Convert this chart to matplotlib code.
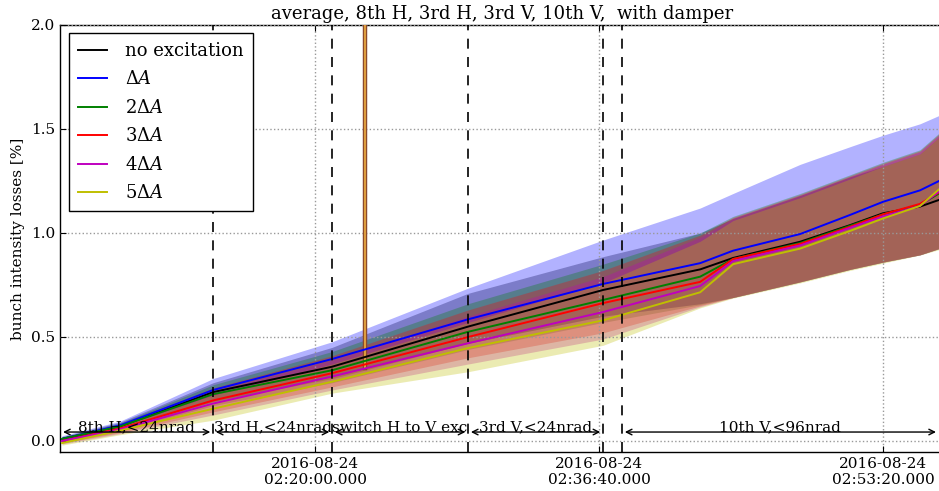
import matplotlib
matplotlib.use("Agg")
import matplotlib.pyplot as plt
import matplotlib.dates as mdates
from datetime import datetime

# ---------------- data ----------------
times = ["02:05:09", "02:08:33", "02:14:01", "02:21:00", "02:28:59", "02:36:54",
         "02:42:36", "02:44:32", "02:48:28", "02:51:24", "02:53:20", "02:55:30", "02:56:37"]

labels = ["no excitation", r"$\Delta A$", r"$2\Delta A$", r"$3\Delta A$", r"$4\Delta A$", r"$5\Delta A$"]
colors = ["k", "b", "g", "r", "m", "y"]

mean_none = [0.01, 0.07, 0.235, 0.357, 0.55, 0.726, 0.825, 0.88, 0.958, 1.038, 1.095, 1.127, 1.159]
mean_1 = [0.01, 0.075, 0.245, 0.394, 0.585, 0.755, 0.855, 0.915, 0.995, 1.087, 1.15, 1.205, 1.25]
mean_2 = [0.01, 0.07, 0.225, 0.34, 0.525, 0.678, 0.79, 0.875, 0.952, 1.035, 1.09, 1.135, 1.19]
mean_3 = [0.0, 0.06, 0.195, 0.326, 0.50, 0.663, 0.765, 0.875, 0.948, 1.03, 1.09, 1.14, 1.195]
mean_4 = [0.0, 0.055, 0.18, 0.31, 0.47, 0.62, 0.745, 0.865, 0.94, 1.025, 1.08, 1.13, 1.2]
mean_5 = [-0.01, 0.05, 0.155, 0.285, 0.447, 0.58, 0.715, 0.85, 0.925, 1.01, 1.07, 1.13, 1.21]

hi_none = [0.02, 0.09, 0.28, 0.45, 0.71, 0.886, 1.0, 1.07, 1.18, 1.27, 1.32, 1.38, 1.46]
hi_1 = [0.025, 0.095, 0.30, 0.477, 0.735, 0.966, 1.12, 1.19, 1.33, 1.415, 1.47, 1.525, 1.565]
hi_2 = [0.02, 0.085, 0.27, 0.43, 0.66, 0.85, 1.0, 1.08, 1.19, 1.28, 1.34, 1.40, 1.48]
hi_3 = [0.015, 0.08, 0.255, 0.41, 0.63, 0.82, 0.99, 1.075, 1.185, 1.275, 1.335, 1.395, 1.475]
hi_4 = [0.01, 0.075, 0.24, 0.39, 0.60, 0.79, 0.98, 1.07, 1.18, 1.27, 1.33, 1.39, 1.47]
hi_5 = [0.005, 0.07, 0.22, 0.37, 0.57, 0.76, 0.96, 1.06, 1.17, 1.26, 1.32, 1.38, 1.46]

lo_none = [0.0, 0.05, 0.19, 0.30, 0.47, 0.60, 0.66, 0.69, 0.765, 0.825, 0.86, 0.895, 0.925]
lo_1 = [0.0, 0.055, 0.19, 0.31, 0.47, 0.60, 0.66, 0.69, 0.765, 0.825, 0.86, 0.895, 0.925]
lo_2 = [0.0, 0.045, 0.17, 0.28, 0.44, 0.57, 0.655, 0.69, 0.765, 0.825, 0.86, 0.895, 0.925]
lo_3 = [-0.01, 0.04, 0.14, 0.26, 0.40, 0.52, 0.65, 0.69, 0.765, 0.825, 0.86, 0.895, 0.925]
lo_4 = [-0.015, 0.035, 0.125, 0.245, 0.37, 0.49, 0.645, 0.69, 0.765, 0.825, 0.86, 0.895, 0.925]
lo_5 = [-0.02, 0.03, 0.10, 0.23, 0.333, 0.46, 0.64, 0.687, 0.76, 0.82, 0.855, 0.894, 0.92]

spike_times = ["02:22:56", "02:22:56"]
spike_vals = [0.35, 2.2]

boundary_times = ["02:14:01", "02:21:00", "02:28:59", "02:36:54", "02:38:01"]
section_starts = ["02:05:03", "02:14:01", "02:21:00", "02:28:59", "02:38:01"]
section_ends = ["02:14:01", "02:21:00", "02:28:59", "02:36:54", "02:56:36"]
section_labels = ["8th H,<24nrad", "3rd H,<24nrad", "switch H to V exc", "3rd V,<24nrad", "10th V,<96nrad"]

tick_times = ["02:20:00", "02:36:40", "02:53:20"]
xlim_times = ["02:05:02", "02:56:58"]

# ---------------- helpers ----------------
def to_dt(s):
    return datetime.strptime("2016-08-24 " + s, "%Y-%m-%d %H:%M:%S")

x = [to_dt(s) for s in times]
means = [mean_none, mean_1, mean_2, mean_3, mean_4, mean_5]
his = [hi_none, hi_1, hi_2, hi_3, hi_4, hi_5]
los = [lo_none, lo_1, lo_2, lo_3, lo_4, lo_5]

plt.rcParams["font.family"] = ["DejaVu Serif"]
plt.rcParams["mathtext.fontset"] = "dejavuserif"

fig = plt.figure(figsize=(9.39, 4.91), dpi=100)
ax = fig.add_axes([60 / 939, 39 / 491, 885 / 939, 427 / 491])

for c, lo, hi in zip(colors, los, his):
    ax.fill_between(x, lo, hi, color=c, alpha=0.3, linewidth=0)

ax.plot([to_dt(s) for s in spike_times], spike_vals, color="#8b4a2b", lw=3.2, zorder=3)
ax.plot([to_dt(s) for s in spike_times], spike_vals, color="#e0a040", lw=1.4, zorder=3)

for c, m, lab in zip(colors, means, labels):
    ax.plot(x, m, color=c, lw=1.4, label=lab, zorder=4)

for s in boundary_times:
    ax.axvline(to_dt(s), color="k", ls=(0, (6, 5)), lw=1.2, zorder=5)

for s0, s1, lab in zip(section_starts, section_ends, section_labels):
    a, b = to_dt(s0), to_dt(s1)
    ax.annotate("", xy=(b, 0.043), xytext=(a, 0.043),
                arrowprops=dict(arrowstyle="<->", color="k", lw=1.0, shrinkA=2, shrinkB=2),
                zorder=6)
    mid = a + (b - a) / 2
    ax.text(mid, 0.045, lab, ha="center", va="baseline", fontsize=11, zorder=6)

ax.set_xlim(to_dt(xlim_times[0]), to_dt(xlim_times[1]))
ax.set_ylim(-0.053, 2.0)
ax.set_xticks([to_dt(s) for s in tick_times])
ax.xaxis.set_major_formatter(mdates.DateFormatter("%Y-%m-%d\n%H:%M:%S.000"))
ax.set_yticks([0.0, 0.5, 1.0, 1.5, 2.0])
ax.set_yticklabels(["0.0", "0.5", "1.0", "1.5", "2.0"])
ax.tick_params(direction="in", length=4, labelsize=11, colors="k", top=True, right=True)
for lab in ax.get_xticklabels():
    lab.set_horizontalalignment("center")
ax.grid(True, color="0.6", ls=":", lw=1)
ax.set_axisbelow(False)
for sp in ax.spines.values():
    sp.set_color("k")
    sp.set_linewidth(1.0)

ax.set_ylabel("bunch intensity losses [%]", fontsize=11)
ax.set_title("average, 8th H, 3rd H, 3rd V, 10th V,  with damper", fontsize=13, pad=4)

leg = ax.legend(loc="upper left", bbox_to_anchor=(9 / 885, 1 - 8 / 427), borderaxespad=0,
                fontsize=13, fancybox=False, framealpha=1, edgecolor="k",
                handlelength=1.6, handletextpad=1.0, labelspacing=0.58, borderpad=0.5)
leg.get_frame().set_linewidth(1.0)

fig.savefig("out.png", dpi=100)
